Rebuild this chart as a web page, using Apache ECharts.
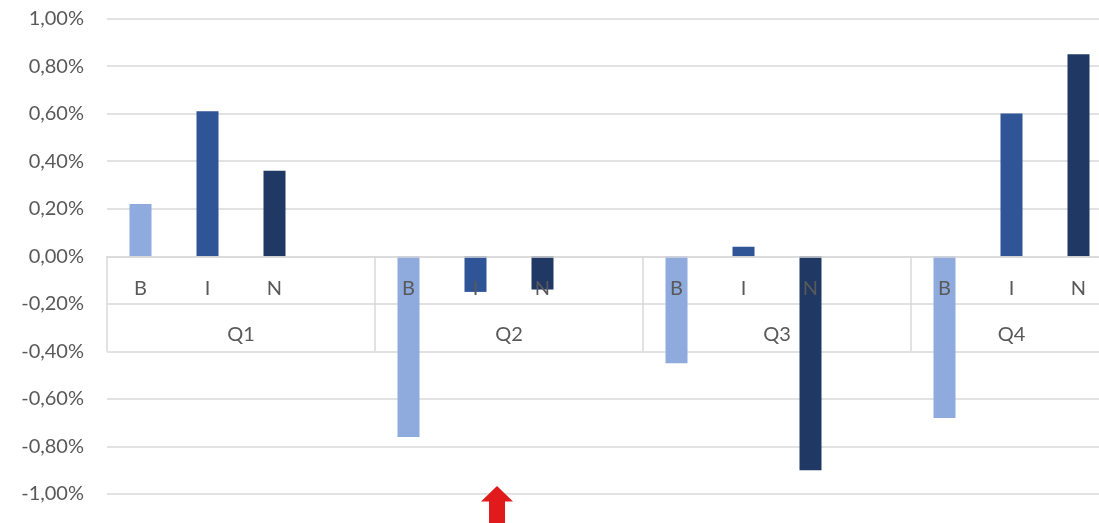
<!DOCTYPE html>
<html>
<head>
<meta charset="utf-8">
<script src="https://cdn.jsdelivr.net/npm/echarts@6/dist/echarts.min.js"></script>
<style>
html,body{margin:0;padding:0;background:#fff;}
#chart{width:1099px;height:523px;}
</style>
</head>
<body>
<div id="chart"></div>
<script>
var quarters = ['Q1', 'Q2', 'Q3', 'Q4'];
var subCats = ['B', 'I', 'N'];
var valuesB = [0.22, -0.76, -0.45, -0.68];
var valuesI = [0.61, -0.15, 0.04, 0.60];
var valuesN = [0.36, -0.14, -0.90, 0.85];
var yTicks = { min: -1, max: 1, step: 0.2 };

// build 15 slots: Q1..Q3 have B,I,N,blank ; Q4 has B,I,N
var slotLabels = [];
var slotQuarter = [];
quarters.forEach(function (q, qi) {
  subCats.forEach(function (s) { slotLabels.push(s); slotQuarter.push(qi); });
  if (qi < quarters.length - 1) { slotLabels.push(''); slotQuarter.push(qi); }
});
var groupStart = [];
var groupCenter = {};
quarters.forEach(function (q, qi) {
  var first = slotQuarter.indexOf(qi);
  var last = slotQuarter.lastIndexOf(qi);
  groupStart.push(first);
  groupCenter[((first + last + 1) / 2).toFixed(1)] = q;
});

function seriesData(vals, subIdx) {
  var d = slotLabels.map(function () { return null; });
  quarters.forEach(function (q, qi) {
    var first = slotQuarter.indexOf(qi);
    d[first + subIdx] = vals[qi];
  });
  return d;
}

var colors = ['#8faadc', '#2f5597', '#203864'];
var allVals = [valuesB, valuesI, valuesN];
var series = subCats.map(function (s, i) {
  return {
    name: s,
    type: 'bar',
    xAxisIndex: 0,
    yAxisIndex: 0,
    data: seriesData(allVals[i], i),
    barWidth: 22,
    barGap: '-100%',
    itemStyle: { color: colors[i] },
    z: 2
  };
});

var GRID_TOP = 18.5, GRID_H = 475.5;
// axis moved up from the grid bottom to the zero line of the value axis
var ZERO_OFFSET = -(GRID_H * (0 - yTicks.min) / (yTicks.max - yTicks.min));

var FONT = 'Lato, "Open Sans", "Liberation Sans", sans-serif';
var chart = echarts.init(document.getElementById('chart'), null, { renderer: 'canvas' });
chart.setOption({
  animation: false,
  backgroundColor: '#ffffff',
  grid: {
    left: 107, top: GRID_TOP, width: 1005, height: GRID_H,
    containLabel: false, outerBoundsMode: 'none'
  },
  xAxis: [
    {
      type: 'category',
      data: slotLabels,
      boundaryGap: true,
      position: 'bottom',
      offset: ZERO_OFFSET,
      z: 5,
      axisLine: { show: true, onZero: false, lineStyle: { color: '#d9d9d9', width: 1.5 } },
      axisTick: {
        show: true, length: 95, inside: false,
        interval: function (idx) { return groupStart.indexOf(idx) >= 0; },
        lineStyle: { color: '#d9d9d9', width: 1.5 }
      },
      axisLabel: { interval: 0, margin: 22, color: '#595959', fontSize: 20, fontFamily: FONT },
      splitLine: { show: false }
    },
    {
      type: 'value',
      min: 0, max: slotLabels.length, interval: 0.5,
      position: 'bottom',
      offset: ZERO_OFFSET,
      z: 5,
      axisLine: { show: false, onZero: false },
      axisTick: { show: false },
      splitLine: { show: false },
      axisLabel: {
        margin: 68, color: '#595959', fontSize: 20, fontFamily: FONT,
        formatter: function (v) { return groupCenter[v.toFixed(1)] || ''; }
      }
    }
  ],
  yAxis: {
    type: 'value',
    min: yTicks.min, max: yTicks.max, interval: yTicks.step,
    axisLine: { show: false },
    axisTick: { show: false },
    splitLine: { show: true, lineStyle: { color: '#d9d9d9', width: 1.5 } },
    axisLabel: {
      margin: 23, color: '#595959', fontSize: 20, fontFamily: FONT,
      formatter: function (v) {
        if (Math.abs(v) < 1e-9) v = 0;
        return v.toFixed(2).replace('.', ',') + '%';
      }
    }
  },
  series: series,
  graphic: [{
    type: 'polygon',
    z: 100,
    shape: { points: [[497, 486], [481, 501.5], [489, 501.5], [489, 523], [505, 523], [505, 501.5], [513, 501.5]] },
    style: { fill: '#e11b1b' }
  }]
});
</script>
</body>
</html>
